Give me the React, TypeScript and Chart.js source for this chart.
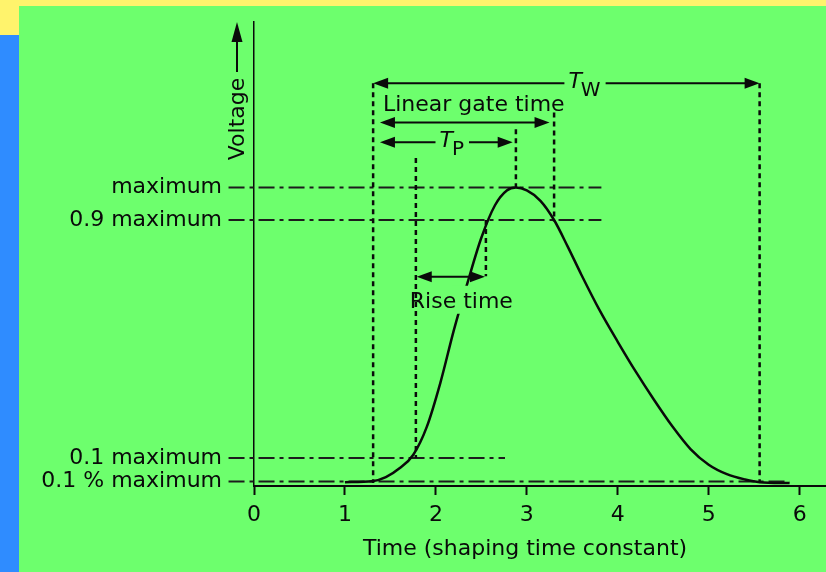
import { useEffect, useRef } from 'react';
import { Chart, registerables } from 'chart.js';

Chart.register(...registerables);

const FONT = '"DejaVu Sans", "Liberation Sans", sans-serif';
const INK = '#0a0a0a';
const GREEN = '#6dff6d';
const YELLOW = '#fff36c';
const BLUE = '#2f8cff';

// x axis ticks (shaping time constants)
const xTicks = [0, 1, 2, 3, 4, 5, 6];

// pulse shape
const pulseTime = [1.0, 1.3, 1.45, 1.6, 1.75, 1.9, 2.05, 2.2, 2.35, 2.5, 2.65, 2.78, 2.88, 3.0, 3.15, 3.3, 3.45, 3.6, 3.8, 4.0, 4.2, 4.4, 4.6, 4.8, 5.0, 5.2, 5.4, 5.56, 5.89];
const pulseVoltage = [0.003, 0.006, 0.02, 0.05, 0.095, 0.19, 0.34, 0.52, 0.68, 0.83, 0.94, 0.99, 1.0, 0.99, 0.955, 0.89, 0.8, 0.705, 0.585, 0.478, 0.376, 0.281, 0.192, 0.115, 0.062, 0.03, 0.012, 0.003, 0.0];

// reference levels (ascending)
const levelValues = [0.005, 0.085, 0.89, 1.0];
const levelLabels = ['0.1 % maximum', '0.1 maximum', '0.9 maximum', 'maximum'];
const levelLineFrom = -0.28;
const levelLineTo = [5.89, 2.76, 3.82, 3.82];

// dotted vertical marker lines
const markerTime = [1.31, 1.78, 2.55, 2.88, 3.3, 5.56];
const markerTop = [1.353, 1.1, 0.89, 1.197, 1.254, 1.353];
const markerBottom = [0, 0.085, 0.7, 1.0, 0.885, 0];

// double-headed interval arrows
const arrowFrom = [1.31, 1.385, 1.385, 1.79];
const arrowTo = [5.56, 3.25, 2.845, 2.54];
const arrowLevel = [1.353, 1.22, 1.153, 0.698];
const arrowName = ['T|W', 'Linear gate time', 'T|P', 'Rise time'];
const arrowNameAt = [3.64, 0, 2.18, 0];

function head(ctx: CanvasRenderingContext2D, tipX: number, tipY: number, dir: number) {
  const len = 15;
  const hw = 5.5;
  ctx.beginPath();
  ctx.moveTo(tipX, tipY);
  ctx.lineTo(tipX - dir * len, tipY - hw);
  ctx.lineTo(tipX - dir * len, tipY + hw);
  ctx.closePath();
  ctx.fill();
}

const annotations = {
  id: 'annotations',
  afterDatasetsDraw(chart: any) {
    const { ctx, chartArea } = chart;
    const xs = chart.scales.x;
    const ys = chart.scales.y;
    ctx.save();
    ctx.fillStyle = INK;
    ctx.strokeStyle = INK;
    ctx.lineWidth = 2;

    arrowName.forEach((name, i) => {
      const x1 = xs.getPixelForValue(arrowFrom[i]);
      const x2 = xs.getPixelForValue(arrowTo[i]);
      const yy = ys.getPixelForValue(arrowLevel[i]);
      const isSym = name.includes('|');
      ctx.setLineDash([]);
      if (isSym) {
        const [main, sub] = name.split('|');
        const cx = xs.getPixelForValue(arrowNameAt[i]);
        ctx.font = `italic 22px ${FONT}`;
        const wT = ctx.measureText(main).width;
        ctx.font = `20px ${FONT}`;
        const wS = ctx.measureText(sub).width;
        const total = wT + wS;
        const gx1 = cx - total / 2 - 4;
        const gx2 = cx + total / 2 + 4;
        ctx.beginPath();
        ctx.moveTo(x1 + 10, yy);
        ctx.lineTo(gx1, yy);
        ctx.moveTo(gx2, yy);
        ctx.lineTo(x2 - 10, yy);
        ctx.stroke();
        ctx.textAlign = 'left';
        ctx.textBaseline = 'alphabetic';
        ctx.font = `italic 22px ${FONT}`;
        ctx.fillText(main, cx - total / 2, yy + 5);
        ctx.font = `20px ${FONT}`;
        ctx.fillText(sub, cx - total / 2 + wT - 1, yy + 13);
      } else {
        ctx.beginPath();
        ctx.moveTo(x1 + 10, yy);
        ctx.lineTo(x2 - 10, yy);
        ctx.stroke();
        ctx.font = `22px ${FONT}`;
        ctx.textAlign = 'left';
        ctx.textBaseline = 'alphabetic';
        if (i === 1) {
          ctx.fillText(name, x1 + 3, yy - 11);
        } else {
          ctx.fillStyle = GREEN;
          ctx.fillRect(x2 - 33, yy + 9, 24, 28);
          ctx.fillStyle = INK;
          ctx.fillText(name, x1 - 7, yy + 31);
        }
      }
      head(ctx, x1, yy, -1);
      head(ctx, x2, yy, 1);
    });

    // Voltage label with upward arrow
    const vx = chartArea.left - 17;
    const top = chartArea.top;
    ctx.setLineDash([]);
    ctx.lineWidth = 2;
    ctx.beginPath();
    ctx.moveTo(vx, top + 50);
    ctx.lineTo(vx, top + 14);
    ctx.stroke();
    ctx.beginPath();
    ctx.moveTo(vx, top);
    ctx.lineTo(vx - 5.5, top + 20);
    ctx.lineTo(vx + 5.5, top + 20);
    ctx.closePath();
    ctx.fill();
    ctx.save();
    ctx.translate(vx, top + 97);
    ctx.rotate(-Math.PI / 2);
    ctx.font = `22px ${FONT}`;
    ctx.textAlign = 'center';
    ctx.textBaseline = 'middle';
    ctx.fillText('Voltage', 0, 1);
    ctx.restore();

    // x axis title
    ctx.font = `22px ${FONT}`;
    ctx.textAlign = 'center';
    ctx.textBaseline = 'middle';
    ctx.fillText('Time (shaping time constant)', xs.getPixelForValue(2.98), chartArea.bottom + 63);
    ctx.restore();
  },
};

export default function App() {
  const ref = useRef<HTMLCanvasElement>(null);

  useEffect(() => {
    document.body.style.margin = '0';
    const canvas = ref.current;
    if (!canvas) return;

    const curve = {
      data: pulseTime.map((t, i) => ({ x: t, y: pulseVoltage[i] })),
      showLine: true,
      borderColor: INK,
      borderWidth: 2.5,
      pointRadius: 0,
      cubicInterpolationMode: 'monotone' as const,
      order: 0,
    };

    const levels = levelValues.map((v, i) => ({
      data: [
        { x: levelLineFrom, y: v },
        { x: levelLineTo[i], y: v },
      ],
      showLine: true,
      borderColor: '#1c1c1c',
      borderWidth: 2,
      borderDash: [16, 5, 4, 5],
      pointRadius: 0,
      clip: false as const,
      order: 2,
    }));

    const markers = markerTime.map((t, i) => ({
      data: [
        { x: t, y: markerTop[i] },
        { x: t, y: markerBottom[i] },
      ],
      showLine: true,
      borderColor: INK,
      borderWidth: 2.5,
      borderDash: [5, 4],
      pointRadius: 0,
      order: 1,
    }));

    const chart = new Chart(canvas, {
      type: 'scatter',
      data: { datasets: [curve, ...levels, ...markers] as any },
      options: {
        animation: false,
        responsive: false,
        events: [],
        layout: { padding: { top: 22, left: 0, right: 0, bottom: 0 } },
        plugins: { legend: { display: false }, tooltip: { enabled: false }, title: { display: false } },
        scales: {
          x: {
            type: 'linear',
            min: 0,
            max: 6.29,
            afterBuildTicks: (s: any) => {
              s.ticks = xTicks.map((v) => ({ value: v }));
            },
            afterFit: (s: any) => {
              s.height = 86;
              s.paddingLeft = 0;
              s.paddingRight = 0;
            },
            grid: { drawOnChartArea: false, drawTicks: true, tickLength: 9, tickColor: INK, tickWidth: 2 },
            border: { display: true, color: INK, width: 2 },
            ticks: { color: INK, font: { family: FONT, size: 22 }, padding: 7, autoSkip: false, maxRotation: 0 },
          },
          y: {
            type: 'linear',
            min: -0.01,
            max: 1.56,
            afterBuildTicks: (s: any) => {
              s.ticks = levelValues.map((v) => ({ value: v }));
            },
            afterFit: (s: any) => {
              s.width = 254;
              s.paddingTop = 0;
              s.paddingBottom = 0;
            },
            grid: { drawOnChartArea: false, drawTicks: false },
            border: { display: true, color: INK, width: 1.5 },
            ticks: {
              color: INK,
              font: { family: FONT, size: 22 },
              padding: 32,
              autoSkip: false,
              callback: (_v: any, i: number) => levelLabels[i],
            },
          },
        },
      },
      plugins: [annotations],
    });

    return () => chart.destroy();
  }, []);

  return (
    <div style={{ position: 'relative', width: 826, height: 572, overflow: 'hidden', background: GREEN }}>
      <div style={{ position: 'absolute', left: 0, top: 0, width: 826, height: 6, background: YELLOW }} />
      <div style={{ position: 'absolute', left: 0, top: 0, width: 19, height: 35, background: YELLOW }} />
      <div style={{ position: 'absolute', left: 0, top: 35, width: 19, height: 537, background: BLUE }} />
      <canvas ref={ref} width={826} height={572} style={{ position: 'absolute', left: 0, top: 0 }} />
    </div>
  );
}
